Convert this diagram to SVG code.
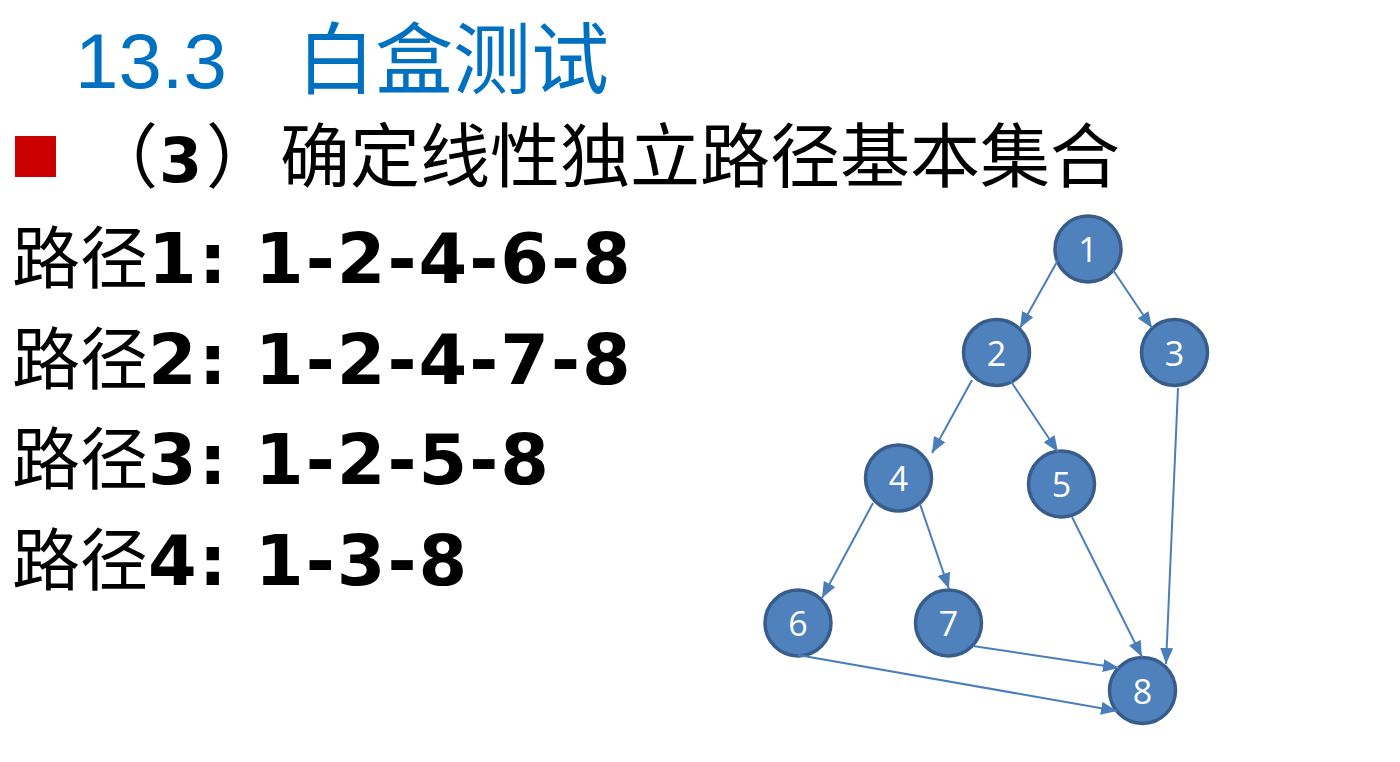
<svg xmlns="http://www.w3.org/2000/svg" width="1400" height="762" viewBox="0 0 1400 762">
<defs>
<marker id="arr" markerUnits="userSpaceOnUse" markerWidth="16" markerHeight="13" refX="16" refY="6.5" orient="auto">
<path d="M0,0 L16,6.5 L0,13 z" fill="#4A7EBB"/>
</marker>
<style>
.title{font-family:"Liberation Sans","Noto Sans CJK SC",sans-serif;fill:#0070C0;font-size:78px}
.cjk{font-family:"Noto Sans CJK SC",sans-serif;fill:#000}
.num{font-family:"DejaVu Sans","Noto Sans CJK SC",sans-serif;font-weight:bold;fill:#000}
.node circle{fill:#4F81BD;stroke:#385D8A;stroke-width:3.5}
.node text{font-family:"Open Sans","Noto Sans",sans-serif;font-size:34px;fill:#fff;text-anchor:middle}
.edges line{stroke:#4A7EBB;stroke-width:2;marker-end:url(#arr)}
</style>
</defs>
<rect width="1400" height="762" fill="#fff"/>
<g id="title">
<text class="title" x="75" y="88">13.3</text>
<text class="title" x="297" y="88" font-family="Noto Sans CJK SC, sans-serif">白盒测试</text>
</g>
<g id="subtitle">
<rect x="15" y="136" width="41" height="41" fill="#CC0000"/>
<text class="cjk" x="88" y="182" font-size="70">（</text>
<text class="num" x="159" y="182" font-size="62">3</text>
<text class="cjk" x="206" y="182" font-size="70">）</text>
<text class="cjk" x="280" y="182" font-size="70">确定线性独立路径基本集合</text>
</g>
<g id="paths">
<text x="12" y="283" font-size="68"><tspan class="cjk">路径</tspan><tspan class="num" font-size="70" letter-spacing="2">1: 1-2-4-6-8</tspan></text>
<text x="12" y="384" font-size="68"><tspan class="cjk">路径</tspan><tspan class="num" font-size="70" letter-spacing="2">2: 1-2-4-7-8</tspan></text>
<text x="12" y="484" font-size="68"><tspan class="cjk">路径</tspan><tspan class="num" font-size="70" letter-spacing="2">3: 1-2-5-8</tspan></text>
<text x="12" y="585" font-size="68"><tspan class="cjk">路径</tspan><tspan class="num" font-size="70" letter-spacing="2">4: 1-3-8</tspan></text>
</g>
<g id="n1" class="node"><circle cx="1088" cy="249" r="33"/><text x="1088" y="262">1</text></g>
<g id="n2" class="node"><circle cx="996.5" cy="352.5" r="33"/><text x="996.5" y="365.5">2</text></g>
<g id="n3" class="node"><circle cx="1174.5" cy="352.5" r="33"/><text x="1174.5" y="365.5">3</text></g>
<g id="n4" class="node"><circle cx="898.5" cy="478" r="33"/><text x="898.5" y="491">4</text></g>
<g id="n5" class="node"><circle cx="1061.5" cy="484" r="33"/><text x="1061.5" y="497">5</text></g>
<g id="n6" class="node"><circle cx="798" cy="623" r="33"/><text x="798" y="636">6</text></g>
<g id="n7" class="node"><circle cx="948.5" cy="623" r="33"/><text x="948.5" y="636">7</text></g>
<g id="n8" class="node"><circle cx="1142.5" cy="690.5" r="33"/><text x="1142.5" y="703.5">8</text></g>
<g id="connectors" class="edges">
<line x1="1058" y1="260" x2="1020" y2="328"/>
<line x1="1113" y1="270" x2="1152" y2="328"/>
<line x1="972" y1="380" x2="932" y2="453"/>
<line x1="1010" y1="380" x2="1058" y2="452"/>
<line x1="1178" y1="388" x2="1166" y2="664"/>
<line x1="873" y1="503" x2="822" y2="598"/>
<line x1="920" y1="504" x2="949" y2="589"/>
<line x1="1072" y1="517" x2="1142" y2="657"/>
<line x1="973" y1="646" x2="1119" y2="668"/>
<line x1="798" y1="655" x2="1117" y2="711"/>
</g>
</svg>
